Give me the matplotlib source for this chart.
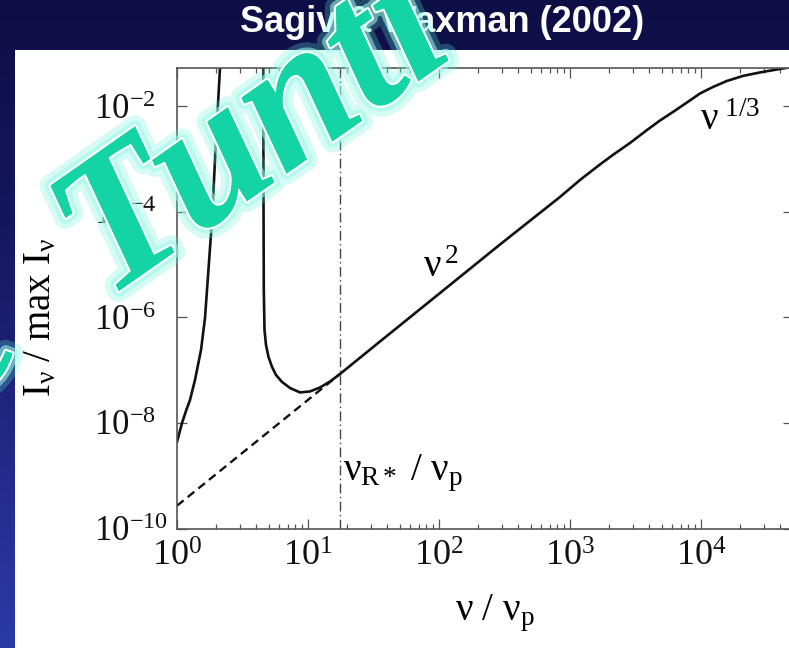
import numpy as np
import matplotlib
matplotlib.use("Agg")
import matplotlib.pyplot as plt
from matplotlib import patheffects as pe
from matplotlib.colors import LinearSegmentedColormap
from matplotlib.patches import Rectangle
from matplotlib.ticker import FixedLocator, FixedFormatter, LogLocator, NullLocator, NullFormatter

# Low-frequency branch, rising into the first resonance
NU_LOW = [1.000, 1.092, 1.171, 1.257, 1.372, 1.525, 1.636, 1.755, 1.850, 1.985, 2.129, 2.168]
I_LOW = [4.34e-9, 9.95e-9, 1.68e-8, 2.72e-8, 6.49e-8, 2.40e-7, 9.70e-7, 1.11e-5,
         6.97e-5, 2.28e-3, 5.27e-2, 2.76e-1]

# Main branch: second resonance, trough, nu^2 rise and nu^(1/3) turnover
NU_MAIN = [4.55, 4.558, 4.574, 4.598, 4.655, 4.779, 4.994, 5.312, 5.698, 6.333, 7.290,
           8.687, 10.36, 12.35, 14.72, 17.55, 35.45, 101.8, 292.2, 838.9, 1192, 1694,
           2129, 2871, 3871, 4864, 6113, 7818, 9826, 1.235e4, 1.580e4, 2.092e4,
           2.821e4, 4.011e4, 5.22e4]
I_MAIN = [2.76e-1, 5.27e-2, 1.67e-4, 3.29e-6, 5.74e-7, 2.99e-7, 1.77e-7, 1.15e-7,
          8.07e-8, 5.96e-8, 4.58e-8, 3.77e-8, 3.94e-8, 4.68e-8, 6.08e-8, 8.43e-8,
          3.48e-7, 2.88e-6, 2.39e-5, 1.90e-4, 3.98e-4, 7.84e-4, 1.19e-3, 2.00e-3,
          3.52e-3, 5.33e-3, 7.73e-3, 1.17e-2, 1.73e-2, 2.30e-2, 2.99e-2, 3.72e-2,
          4.33e-2, 5.04e-2, 5.62e-2]

# nu^2 power law extended below nu_R*
NU_EXT = [1.0, 17.55]
I_EXT = [2.7e-10, 8.43e-8]

NU_RSTAR = 17.55

X_TICKS = [1, 10, 100, 1000, 10000]
X_TICK_LABELS = [r"$10^{0}$", r"$10^{1}$", r"$10^{2}$", r"$10^{3}$", r"$10^{4}$"]
Y_TICKS = [1e-10, 1e-8, 1e-6, 1e-4, 1e-2]
Y_TICK_LABELS = [r"$10^{-10}$", r"$10^{-8}$", r"$10^{-6}$", r"$10^{-4}$", r"$10^{-2}$"]

plt.rcParams["font.family"] = "Liberation Serif"
plt.rcParams["mathtext.fontset"] = "custom"
plt.rcParams["mathtext.rm"] = "Liberation Serif"
plt.rcParams["mathtext.it"] = "Liberation Serif:italic"
plt.rcParams["mathtext.bf"] = "Liberation Serif:bold"

W, H = 789, 648
fig = plt.figure(figsize=(W / 100, H / 100), dpi=100)

# slide background: navy gradient with a white panel
bg = fig.add_axes([0, 0, 1, 1])
bg.set_axis_off()
bg.set_xlim(0, W)
bg.set_ylim(H, 0)
cmap = LinearSegmentedColormap.from_list(
    "slide", [(0.0, "#0e0e46"), (0.35, "#15175e"), (1.0, "#2c3aa8")])
grad = np.linspace(0, 1, 256)[:, None]
bg.imshow(grad, cmap=cmap, extent=[0, W, H, 0], aspect="auto", zorder=0)
bg.add_patch(Rectangle((15, 50), W, H, facecolor="white", edgecolor="none", zorder=1))

ax = fig.add_axes([177 / W, 1 - 528.5 / H, 615.5 / W, 460.5 / H])
ax.set_facecolor("white")
ax.set_xscale("log")
ax.set_yscale("log")
ax.set_xlim(1, 4.99e4)
ax.set_ylim(1e-10, 0.0525)

ax.plot(NU_LOW, I_LOW, color="#111111", lw=1.9, solid_capstyle="round")
ax.plot(NU_MAIN, I_MAIN, color="#111111", lw=1.9, solid_capstyle="round")
ax.plot(NU_EXT, I_EXT, color="#111111", lw=1.7, linestyle=(0, (3.6, 2.2)))
ax.axvline(NU_RSTAR, color="#444444", lw=1.0, linestyle=(0, (7, 2.5, 1, 2.5)))

ax.xaxis.set_major_locator(FixedLocator(X_TICKS))
ax.xaxis.set_major_formatter(FixedFormatter(X_TICK_LABELS))
ax.xaxis.set_minor_locator(LogLocator(base=10, subs=np.arange(2, 10), numticks=20))
ax.xaxis.set_minor_formatter(NullFormatter())
ax.yaxis.set_major_locator(FixedLocator(Y_TICKS))
ax.yaxis.set_major_formatter(FixedFormatter(Y_TICK_LABELS))
ax.yaxis.set_minor_locator(NullLocator())

ax.tick_params(which="both", direction="in", top=True, right=True,
               color="#555555", width=0.9, labelcolor="#111111")
ax.tick_params(which="major", length=7.5)
ax.tick_params(which="minor", length=3.8)
ax.tick_params(axis="x", pad=9, labelsize=26)
ax.tick_params(axis="y", pad=59.5, labelsize=25)
for lab in ax.get_yticklabels():
    lab.set_horizontalalignment("left")
for s in ax.spines.values():
    s.set_color("#555555")
    s.set_linewidth(1.2)

ax.text(75.5, 5.8e-6, r"$\mathrm{\nu}^{\,2}$", fontsize=28, ha="left", va="baseline")
ax.text(9820, 3.5e-3, r"$\mathrm{\nu}^{\ 1/3}$", fontsize=28, ha="left", va="baseline")
ax.text(18.5, 8.3e-10, r"$\mathrm{\nu}_{\mathrm{R*}}\ /\ \mathrm{\nu}_{\mathrm{p}}$",
        fontsize=28, ha="left", va="baseline")

ax.text((495 - 177) / 615.5, -(620 - 528.5) / 460.5,
        r"$\mathrm{\nu\ /\ \nu}_{\mathrm{p}}$", transform=ax.transAxes,
        fontsize=28, ha="center", va="baseline")
ax.text((41 - 177) / 615.5, (528.5 - 317) / 460.5,
        r"$\mathrm{I}_{\mathrm{\nu}}\ /\ \mathrm{max\ I}_{\mathrm{\nu}}$",
        transform=ax.transAxes, fontsize=28, rotation=90, ha="center", va="center")

fig.text(442 / W, 1 - 23 / H, "Sagiv & Waxman (2002)", color="white",
         family="Liberation Sans", weight="bold", fontsize=26, ha="center", va="center")

# watermark
glow = [pe.withStroke(linewidth=16, foreground="#5ff0d8", alpha=0.26),
        pe.withStroke(linewidth=8.5, foreground="#9cfaea", alpha=0.55),
        pe.withStroke(linewidth=3.2, foreground="white"),
        pe.Normal()]
fig.text(106 / W, 1 - 300 / H, "Tunti", rotation=35, rotation_mode="anchor",
         ha="left", va="baseline", fontsize=138, family="Liberation Serif",
         style="italic", weight="bold", color="#14d4a6", path_effects=glow, zorder=10)
fig.text(28 / W, 1 - 358 / H, "e", rotation=35, rotation_mode="anchor",
         ha="right", va="baseline", fontsize=138, family="Liberation Serif",
         style="italic", weight="bold", color="#14d4a6", path_effects=glow, zorder=10)

fig.savefig("out.png", dpi=100)
